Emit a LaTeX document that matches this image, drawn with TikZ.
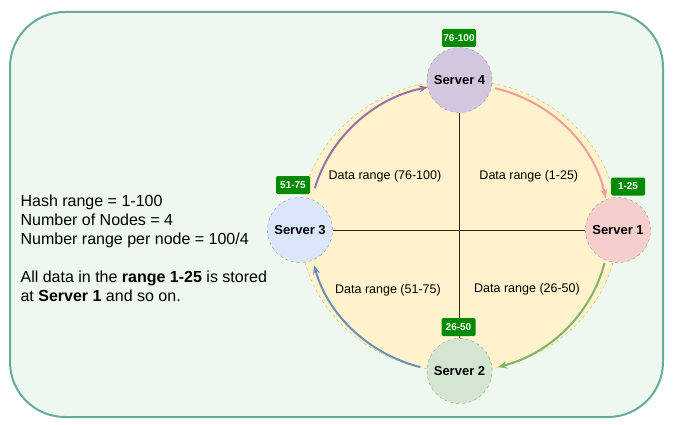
\documentclass[tikz,border=0pt]{standalone}
\usepackage{fontspec}
\setmainfont{Liberation Sans}
\usetikzlibrary{arrows.meta,shapes.geometric}
\definecolor{frameTeal}{HTML}{67AB9F}
\definecolor{bgGreen}{HTML}{EEF8EE}
\definecolor{ringGold}{HTML}{D6B656}
\definecolor{ringFill}{HTML}{FFF2CC}
\definecolor{sFour}{HTML}{D3C7E0}
\definecolor{sOne}{HTML}{F6CFCD}
\definecolor{sTwo}{HTML}{D3E6D2}
\definecolor{sThree}{HTML}{DAE7FB}
\definecolor{tagGreen}{HTML}{008A00}
\definecolor{arPurple}{HTML}{9673A6}
\definecolor{arPink}{HTML}{EE9E9B}
\definecolor{arGreen}{HTML}{82B366}
\definecolor{arBlue}{HTML}{6C8EBF}
\begin{document}
\begin{tikzpicture}[x=1pt,y=1pt,
  server/.style={circle, draw=black!40, dashed, minimum size=65pt, inner sep=0pt,
    font=\fontsize{13}{15}\selectfont\bfseries},
  rangetag/.style={fill=tagGreen, text=white, rounded corners=1.5pt, minimum width=34pt,
    minimum height=18pt, inner sep=0pt, font=\fontsize{10}{12}\selectfont\bfseries},
  datalbl/.style={font=\fontsize{12.5}{15}\selectfont, inner sep=0pt},
  flow/.style={line width=2pt, -{Stealth[length=9pt,width=7pt]}},
  divider/.style={draw=black!85, line width=0.8pt},
]
\useasboundingbox (0,0) rectangle (674,424);
\draw[draw=frameTeal, fill=bgGreen, line width=2pt, rounded corners=55pt] (10,7) rectangle (663,412);
\node[ellipse, draw=ringGold, dashed, fill=ringFill, minimum width=318pt, minimum height=292pt, inner sep=0pt] (ring) at (459,198) {};

\node[server, fill=sFour] (s4) at (459.5,344) {Server 4};
\node[server, fill=sOne] (s1) at (618,194) {Server 1};
\node[server, fill=sTwo] (s2) at (459.5,53) {Server 2};
\node[server, fill=sThree] (s3) at (300,194) {Server 3};

\draw[divider] (s4.south) -- (s2.north);
\draw[divider] (s3.east) -- (s1.west);

\coordinate (pa) at ({459+150*cos(164)},{196+144*sin(164)});
\coordinate (pb) at ({459+150*cos(76)},{196+144*sin(76)});
\coordinate (pc) at ({459+150*cos(-14)},{196+144*sin(-14)});
\coordinate (pd) at ({459+150*cos(-105)},{196+144*sin(-105)});
\draw[flow, arPurple] (pa) arc[start angle=164, end angle=102, x radius=150, y radius=144];
\draw[flow, arPink] (pb) arc[start angle=76, end angle=12, x radius=150, y radius=144];
\draw[flow, arGreen] (pc) arc[start angle=-14, end angle=-75, x radius=150, y radius=144];
\draw[flow, arBlue] (pd) arc[start angle=-105, end angle=-165, x radius=150, y radius=144];

\node[rangetag] (t4) at (459,386) {76-100};
\node[rangetag] (t1) at (628,237.5) {1-25};
\node[rangetag] (t3) at (293,239) {51-75};
\node[rangetag] (t2) at (458.5,97) {26-50};

\node[datalbl] (d4) at (385,247.3) {Data range (76-100)};
\node[datalbl] (d1) at (528.8,247.3) {Data range (1-25)};
\node[datalbl] (d3) at (388,134) {Data range (51-75)};
\node[datalbl] (d2) at (527,134.7) {Data range (26-50)};

\node[anchor=north west, align=left, inner sep=0pt, font=\fontsize{16}{19}\selectfont] (info) at (20.4,229)
  {Hash range = 1-100\\Number of Nodes = 4\\Number range per node = 100/4\\[19pt]All data in the \textbf{range 1-25} is stored\\at \textbf{Server 1} and so on.};
\end{tikzpicture}
\end{document}
